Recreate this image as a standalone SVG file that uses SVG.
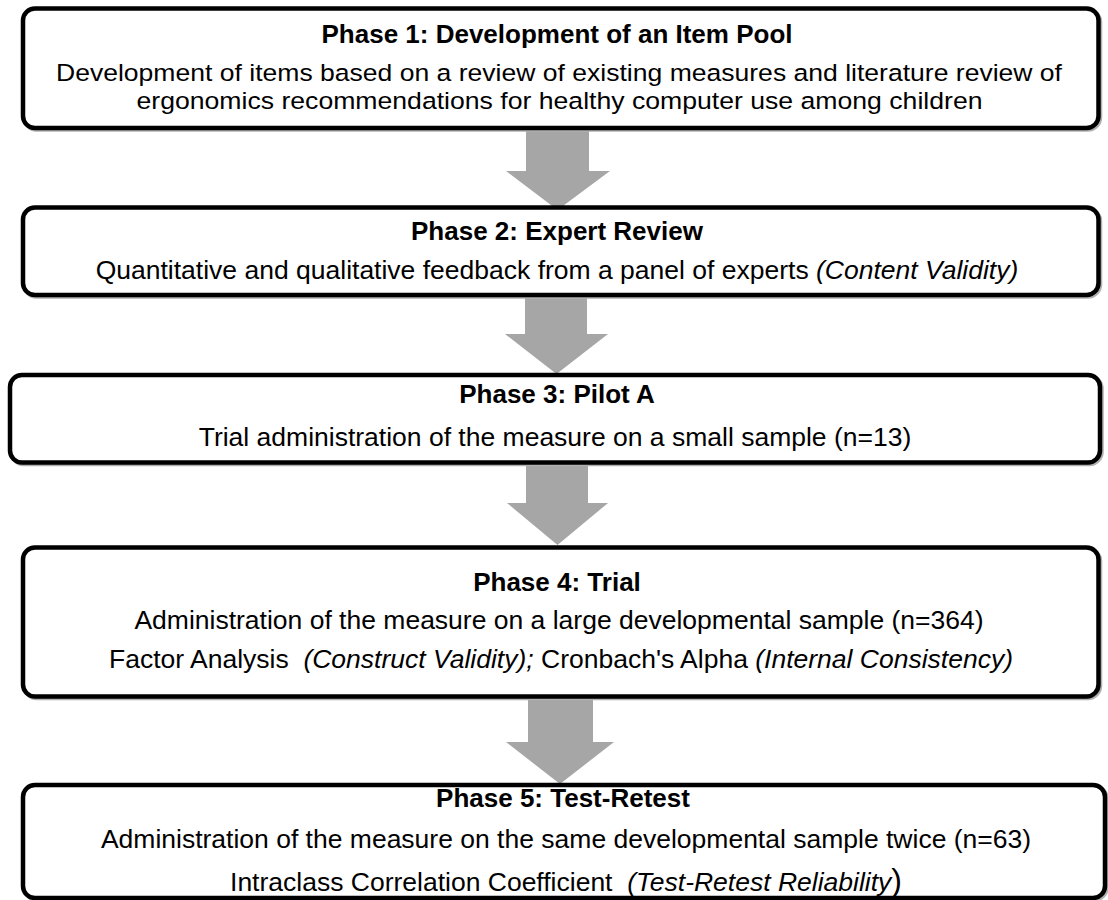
<svg xmlns="http://www.w3.org/2000/svg" width="1108" height="900" viewBox="0 0 1108 900">
<style>
.box{fill:#fff;stroke:#000;stroke-width:4.5}
.shadow{fill:none;stroke:#b0b0b0;stroke-width:4.5}
.arrow{fill:#a6a6a6;stroke:none}
text{font-family:"Liberation Sans",Arial,sans-serif;fill:#000;text-anchor:middle;white-space:pre}
.title{font-size:26px;font-weight:bold}
.body{font-size:26.5px}
.tight{font-size:24.5px}
.it{font-style:italic}
</style>
<rect width="1108" height="900" fill="#fff"/>
<g id="connectors">
<polygon class="arrow" points="526,126 589,126 589,171 610,171 557.5,210 506,171 526,171"/>
<polygon class="arrow" points="525,293 587,293 587,334 608,334 556.5,374 505,334 525,334"/>
<polygon class="arrow" points="526,460 588,460 588,503 608,503 557.5,545 507,503 526,503"/>
<polygon class="arrow" points="528,694 593,694 593,742 614,742 560,784 506,742 528,742"/>
</g>
<g id="phase1">
<rect class="shadow" x="24.5" y="10" width="1075.5" height="119.5" rx="12"/>
<rect class="box" x="23" y="8.5" width="1075.5" height="119.5" rx="12"/>
<text class="title" x="557" y="43">Phase 1: Development of an Item Pool</text>
<text class="tight" x="559" y="81" textLength="1006" lengthAdjust="spacingAndGlyphs">Development of items based on a review of existing measures and literature review of</text>
<text class="tight" x="559.5" y="108.5" textLength="846" lengthAdjust="spacingAndGlyphs">ergonomics recommendations for healthy computer use among children</text>
</g>
<g id="phase2">
<rect class="shadow" x="24.5" y="209" width="1075.5" height="87.5" rx="12"/>
<rect class="box" x="23" y="207.5" width="1075.5" height="87.5" rx="12"/>
<text class="title" x="557" y="240">Phase 2: Expert Review</text>
<text class="body" x="557" y="278.5">Quantitative and qualitative feedback from a panel of experts <tspan class="it">(Content Validity)</tspan></text>
</g>
<g id="phase3">
<rect class="shadow" x="11.5" y="376.5" width="1090" height="87.5" rx="12"/>
<rect class="box" x="10" y="375" width="1090" height="87.5" rx="12"/>
<text class="title" x="557" y="403">Phase 3: Pilot A</text>
<text class="body" x="555" y="446">Trial administration of the measure on a small sample (n=13)</text>
</g>
<g id="phase4">
<rect class="shadow" x="24.5" y="549" width="1075.5" height="149" rx="12"/>
<rect class="box" x="23" y="547.5" width="1075.5" height="149" rx="12"/>
<text class="title" x="557" y="591">Phase 4: Trial</text>
<text class="body" x="559" y="629">Administration of the measure on a large developmental sample (n=364)</text>
<text class="body" x="561" y="668">Factor Analysis  <tspan class="it">(Construct Validity);</tspan> Cronbach's Alpha <tspan class="it">(Internal Consistency)</tspan></text>
</g>
<g id="phase5">
<rect class="shadow" x="24.5" y="786.5" width="1082" height="113" rx="12"/>
<rect class="box" x="23" y="785" width="1082" height="113" rx="12"/>
<text class="title" x="563" y="807">Phase 5: Test-Retest</text>
<text class="body" x="566" y="848">Administration of the measure on the same developmental sample twice (n=63)</text>
<text class="body" x="566" y="891">Intraclass Correlation Coefficient  <tspan class="it">(Test-Retest Reliability</tspan><tspan font-size="32">)</tspan></text>
</g>
</svg>
